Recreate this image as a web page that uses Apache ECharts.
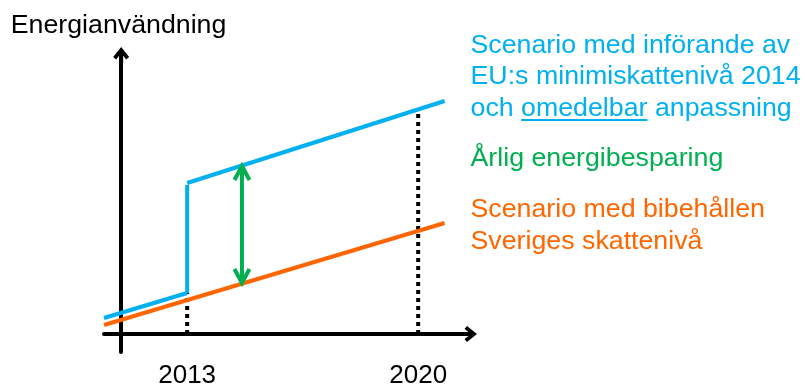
<!DOCTYPE html>
<html>
<head>
<meta charset="utf-8">
<script src="https://cdn.jsdelivr.net/npm/echarts@6/dist/echarts.min.js"></script>
<style>
  html, body { margin: 0; padding: 0; background: #fff; }
  #chart { width: 805px; height: 385px; }
</style>
</head>
<body>
<div id="chart"></div>
<script>
// Year at which the energy axis stands; x values are plotted as years after it
const axisYear = 2011;
const xRange = [2010.48, 2021.54];
const yRange = [-1.8, 27.9];

const tickYears = [2013, 2020];
const tickLabels = ['2013', '2020'];

// Energy use with Sweden's present tax level kept
const keptLevel = [[2010.48, 0.9], [2020.8, 11.1]];
// Energy use with the EU minimum tax level from 2014 and immediate adaptation
const euBefore = [[2010.48, 1.6], [2013, 4.1]];
const euJump = [[2013, 4.1], [2013, 14.9]];
const euAfter = [[2013, 15.1], [2020.8, 23.3]];
// Dotted guides rising from the year ticks
const guide2013 = [[2013, 0], [2013, 4.1]];
const guide2020 = [[2020, 0], [2020, 22.4]];
// Annual energy saving: [year, upper value, lower value]
const saving = [[2014.66, 17.1, 4.8]];

// Texts
const axisTitle = 'Energianvändning';
const euLabel = ['Scenario med införande av', 'EU:s minimiskattenivå 2014', 'och ', 'omedelbar', ' anpassning'];
const savingLabel = 'Årlig energibesparing';
const keptLabel = ['Scenario med bibehållen', 'Sveriges skattenivå'];

const BLUE = '#00B0F0';
const ORANGE = '#FF6600';
const GREEN = '#00B050';
const FONT = "'Liberation Sans', Arial, sans-serif";
const TEXT_SIZE = 25;
const TEXT_SCALE = 1.07;

// Open chevron arrow head (points up, rotated by the axis), with a short stem
const ARROW = 'path://M8,0 L16,10 L13,12.5 L10,8.5 L10,16 L6,16 L6,8.5 L3,12.5 L0,10 Z';

const shift = pts => pts.map(([x, y]) => [x - axisYear, y]);

function lineSeries(data, color, z, dashed) {
  return {
    type: 'line',
    data: shift(data),
    symbol: 'none',
    silent: true,
    z: z,
    lineStyle: { color: color, width: 4, type: dashed ? [4, 4] : 'solid', cap: 'butt' }
  };
}

function textEl(text, x, y, color) {
  return {
    type: 'text', x: x, y: y, scaleX: TEXT_SCALE, z: 10,
    style: {
      text: text, fill: color, fontSize: TEXT_SIZE, fontFamily: FONT,
      textAlign: 'left', verticalAlign: 'middle', textVerticalAlign: 'middle'
    }
  };
}

// Width of a text run, for the underline under "omedelbar"
const measureCtx = document.createElement('canvas').getContext('2d');
measureCtx.font = TEXT_SIZE + 'px ' + FONT;
const textW = s => measureCtx.measureText(s).width * TEXT_SCALE;

const rightX = 470.5;
const line3X2 = rightX + textW(euLabel[2]);
const line3X3 = line3X2 + textW(euLabel[3]);

const chart = echarts.init(document.getElementById('chart'), null, { renderer: 'canvas' });

chart.setOption({
  animation: false,
  backgroundColor: '#fff',
  grid: { left: 104, right: 336, top: 55, bottom: 33, containLabel: false, outerBoundsMode: 'none' },
  xAxis: {
    type: 'value',
    min: xRange[0] - axisYear,
    max: xRange[1] - axisYear,
    axisLine: {
      show: true, onZero: true,
      lineStyle: { color: '#000', width: 4 },
      symbol: ['none', ARROW], symbolSize: [16, 16]
    },
    axisTick: { show: false },
    splitLine: { show: false },
    axisLabel: {
      show: true,
      customValues: tickYears.map(t => t - axisYear),
      formatter: v => tickLabels[tickYears.indexOf(Math.round(v + axisYear))],
      color: '#000', fontSize: 26, fontFamily: FONT, margin: 11
    }
  },
  yAxis: {
    type: 'value',
    min: yRange[0],
    max: yRange[1],
    axisLine: {
      show: true, onZero: true,
      lineStyle: { color: '#000', width: 4 },
      symbol: ['none', ARROW], symbolSize: [16, 16]
    },
    axisTick: { show: false },
    axisLabel: { show: false },
    splitLine: { show: false }
  },
  series: [
    lineSeries(guide2013, '#000', 1, true),
    lineSeries(guide2020, '#000', 1, true),
    lineSeries(keptLevel, ORANGE, 3, false),
    lineSeries(euBefore, BLUE, 2, false),
    lineSeries(euJump, BLUE, 2, false),
    lineSeries(euAfter, BLUE, 2, false),
    {
      type: 'custom',
      silent: true,
      z: 5,
      data: saving.map(([x, a, b]) => [x - axisYear, a, b]),
      encode: { x: 0, y: [1, 2] },
      renderItem: function (params, api) {
        const top = api.coord([api.value(0), api.value(1)]);
        const bot = api.coord([api.value(0), api.value(2)]);
        const hw = 7.5, hd = 14, inset = 3;
        const style = { stroke: GREEN, lineWidth: 4, fill: null, lineJoin: 'miter' };
        return {
          type: 'group',
          children: [
            { type: 'line', shape: { x1: top[0], y1: top[1] + inset, x2: bot[0], y2: bot[1] - inset }, style: style },
            { type: 'polyline', shape: { points: [[top[0] - hw, top[1] + inset + hd], [top[0], top[1] + inset], [top[0] + hw, top[1] + inset + hd]] }, style: style },
            { type: 'polyline', shape: { points: [[bot[0] - hw, bot[1] - inset - hd], [bot[0], bot[1] - inset], [bot[0] + hw, bot[1] - inset - hd]] }, style: style }
          ]
        };
      }
    }
  ],
  graphic: [
    textEl(axisTitle, 10.7, 26.5, '#000'),
    textEl(euLabel[0], rightX, 46.3, BLUE),
    textEl(euLabel[1], rightX, 77.3, BLUE),
    textEl(euLabel[2], rightX, 109, BLUE),
    textEl(euLabel[3], line3X2, 109, BLUE),
    textEl(euLabel[4], line3X3, 109, BLUE),
    {
      type: 'line', z: 10,
      shape: { x1: line3X2, y1: 120, x2: line3X3, y2: 120 },
      style: { stroke: BLUE, lineWidth: 2 }
    },
    textEl(savingLabel, rightX, 159, GREEN),
    textEl(keptLabel[0], rightX, 210.6, ORANGE),
    textEl(keptLabel[1], rightX, 242.3, ORANGE)
  ]
});
</script>
</body>
</html>
